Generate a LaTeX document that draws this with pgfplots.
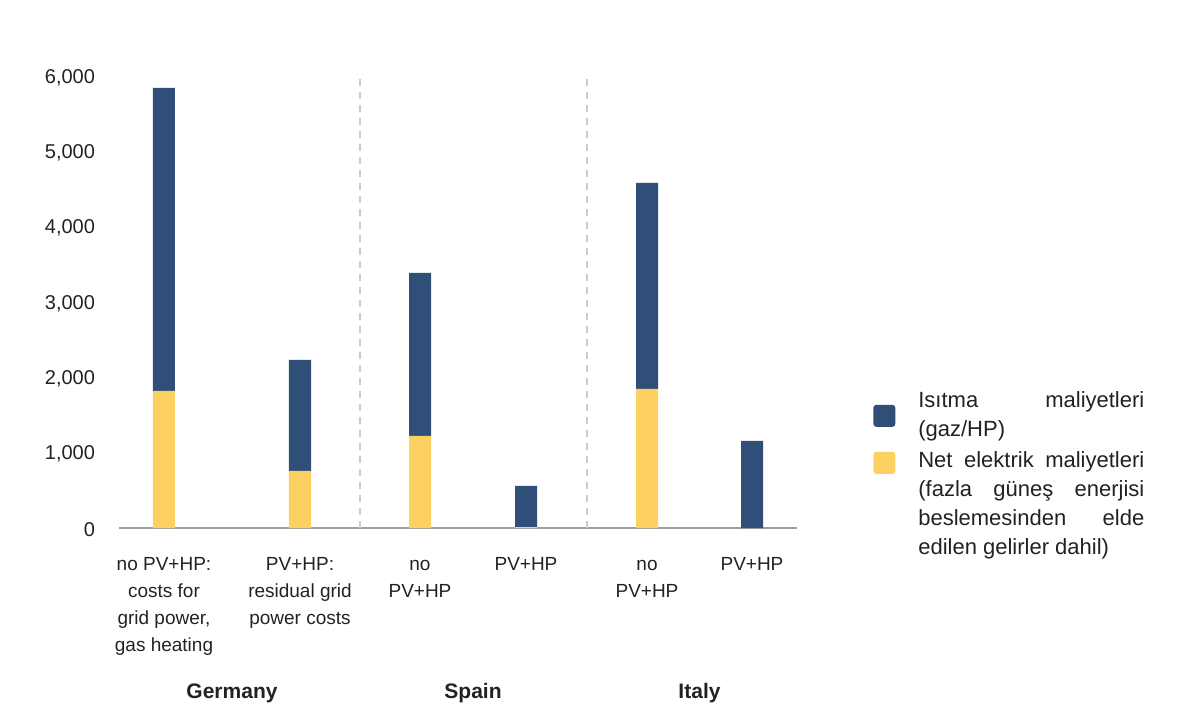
\documentclass[border=0pt]{standalone}
\usepackage{fontspec}
\setmainfont{Liberation Sans}
\usepackage{pgfplots}
\pgfplotsset{compat=1.18}
\definecolor{barblue}{HTML}{2F4E78}
\definecolor{baryellow}{HTML}{FDD161}
\definecolor{txt}{HTML}{222222}
\begin{document}
\begin{tikzpicture}
\useasboundingbox (-59.5pt,-95pt) rectangle (540.5pt,264pt);
\begin{axis}[
  at={(0pt,0pt)}, anchor=south west,
  scale only axis, width=339pt, height=226pt,
  xmin=119, xmax=797, ymin=0, ymax=6000,
  ybar stacked, bar width=22,
  axis lines*=left,
  x axis line style={draw=gray!75, line width=0.7pt},
  y axis line style={draw=none},
  major tick length=0pt,
  xtick={164,300,420,526,647,752},
  xticklabels={{\strut no PV+HP:\\costs for\\grid power,\\gas heating},{\strut PV+HP:\\residual grid\\power costs},{\strut no\\PV+HP},{\strut PV+HP},{\strut no\\PV+HP},{\strut PV+HP}},
  xticklabel style={align=center, font=\fontsize{9.5}{13.5}\selectfont, text=txt, yshift=-8.5pt},
  ytick={0,1000,...,6000},
  yticklabel style={font=\fontsize{10}{12}\selectfont, text=txt, xshift=-8.5pt, yshift=-0.8pt},
  /pgf/number format/1000 sep={,},
  /pgf/number format/assume math mode=true,
  extra x ticks={360,587},
  extra x tick labels={},
  extra x tick style={grid=major, major grid style={draw=gray!40, dash pattern=on 3.5pt off 3pt, line width=0.6pt}},
  clip=false,
  reverse legend,
  legend cell align=left,
  legend style={draw=none, fill=none, at={(1.112,0.3126)}, anchor=north west,
    inner sep=0pt, row sep=10pt, column sep=11.5pt,
    font=\fontsize{11}{14.5}\selectfont, text=txt, nodes={inner sep=0pt}},
]
\addplot[fill=baryellow, draw=none,
  legend image code/.code={\fill[baryellow, rounded corners=1.5pt] (0pt,3.1pt) rectangle (11pt,14.1pt);}]
  coordinates {(164,1819) (300,757) (420,1222) (526,10) (647,1846) (752,0)};
\addlegendentry{\parbox[c]{113pt}{\strut Net\hfill elektrik\hfill maliyetleri\\(fazla\hfill güneş\hfill enerjisi\\beslemesinden\hfill elde\\edilen gelirler dahil)\strut}}
\addplot[fill=barblue, draw=none,
  legend image code/.code={\fill[barblue, rounded corners=1.5pt] (0pt,-10.5pt) rectangle (11pt,0.5pt);}]
  coordinates {(164,4024) (300,1474) (420,2164) (526,548) (647,2736) (752,1155)};
\addlegendentry{\parbox[c]{113pt}{\strut Isıtma\hfill maliyetleri\\(gaz/HP)\strut}}
\node[font=\bfseries\fontsize{10.5}{12}\selectfont, text=txt, yshift=-82.5pt] at (axis cs:232,0) {Germany};
\node[font=\bfseries\fontsize{10.5}{12}\selectfont, text=txt, yshift=-82.5pt] at (axis cs:473,0) {Spain};
\node[font=\bfseries\fontsize{10.5}{12}\selectfont, text=txt, yshift=-82.5pt] at (axis cs:699.5,0) {Italy};
\end{axis}
\end{tikzpicture}
\end{document}
